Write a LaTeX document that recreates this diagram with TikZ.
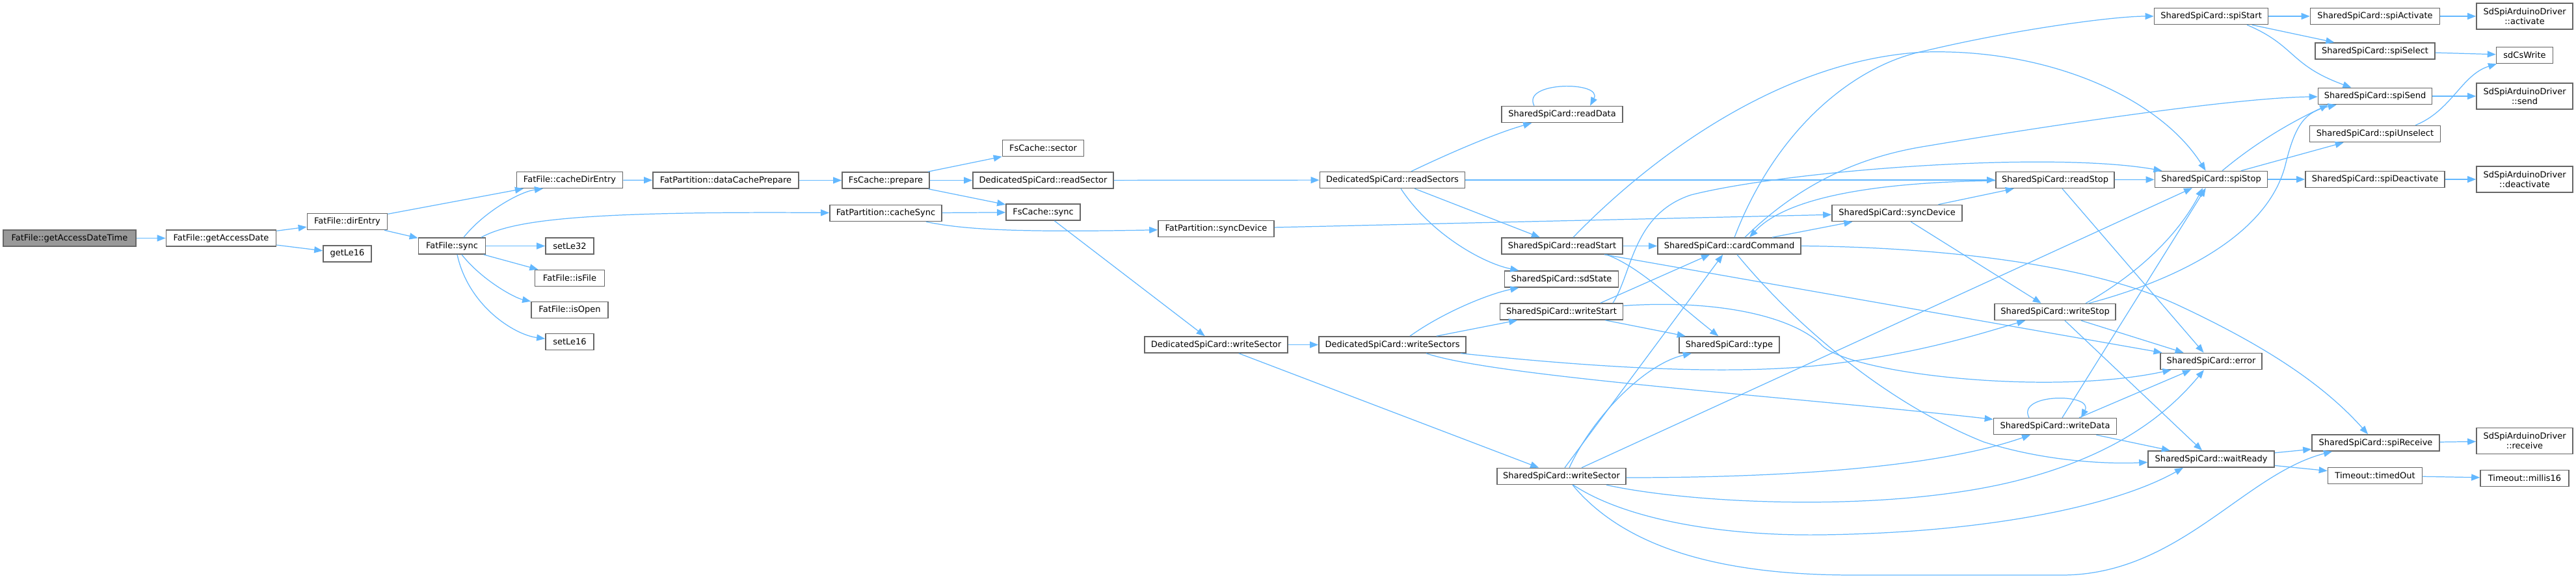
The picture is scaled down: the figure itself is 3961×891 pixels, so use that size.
\documentclass[tikz,border=0pt]{standalone}
\usepackage{fontspec}
\setmainfont{DejaVu Sans}
\usetikzlibrary{arrows.meta}
\definecolor{edgeblue}{HTML}{63B8FF}
\definecolor{boxgray}{HTML}{666666}
\definecolor{rootgray}{HTML}{999999}

\begin{document}
\begin{tikzpicture}[x=0.01cm, y=-0.01cm,
    fn/.style={rectangle, draw=boxgray, line width=0.45pt, fill=white, minimum height=0.25cm, inner xsep=0.04cm, inner ysep=0pt, font=\fontsize{3.7}{4.3}\selectfont, align=center},
    root/.style={fn, fill=rootgray},
    call/.style={draw=edgeblue, line width=0.35pt, -{Triangle[length=0.13cm, width=0.1cm]}}]
    \path[fill=white] (0,0) rectangle (3961,891);
    \useasboundingbox (0,0) rectangle (3961,891);

    \node[root, minimum width=2.04cm] (gadt) at (107,366.5) {FatFile::getAccessDateTime};
    \node[fn, minimum width=1.69cm] (gad) at (340,366.5) {FatFile::getAccessDate};
    \node[fn, minimum width=1.23cm] (dirent) at (534,341) {FatFile::dirEntry};
    \node[fn, minimum width=0.74cm] (getle) at (534,390.5) {getLe16};
    \node[fn, minimum width=1.63cm] (cde) at (876,277) {FatFile::cacheDirEntry};
    \node[fn, minimum width=1.03cm] (fsync) at (695,378.5) {FatFile::sync};
    \node[fn, minimum width=0.74cm] (setle32) at (876,378.5) {setLe32};
    \node[fn, minimum width=1.07cm] (isfile) at (876,428) {FatFile::isFile};
    \node[fn, minimum width=1.18cm] (isopen) at (876,477) {FatFile::isOpen};
    \node[fn, minimum width=0.74cm] (setle16) at (876,526) {setLe16};
    \node[fn, minimum width=2.24cm] (dcp) at (1116,277.5) {FatPartition::dataCachePrepare};
    \node[fn, minimum width=1.34cm] (prep) at (1362,277.5) {FsCache::prepare};
    \node[fn, minimum width=1.25cm] (sector) at (1604,228) {FsCache::sector};
    \node[fn, minimum width=2.16cm] (rsec) at (1604,277.5) {DedicatedSpiCard::readSector};
    \node[fn, minimum width=1.14cm] (fssync) at (1604,326.5) {FsCache::sync};
    \node[fn, minimum width=1.72cm] (csync) at (1362,328) {FatPartition::cacheSync};
    \node[fn, minimum width=1.78cm] (psync) at (1870,352) {FatPartition::syncDevice};
    \node[fn, minimum width=2.20cm] (dwsec) at (1870,530.5) {DedicatedSpiCard::writeSector};
    \node[fn, minimum width=2.26cm] (dwsecs) at (2141,530.5) {DedicatedSpiCard::writeSectors};
    \node[fn, minimum width=2.23cm] (drsecs) at (2141,277) {DedicatedSpiCard::readSectors};
    \node[fn, minimum width=1.86cm] (rdata) at (2402,176) {SharedSpiCard::readData};
    \node[fn, minimum width=1.86cm] (rstart) at (2402,378.5) {SharedSpiCard::readStart};
    \node[fn, minimum width=1.75cm] (sdstate) at (2401,429.5) {SharedSpiCard::sdState};
    \node[fn, minimum width=1.89cm] (wstart) at (2401,479.5) {SharedSpiCard::writeStart};
    \node[fn, minimum width=1.98cm] (swsec) at (2401,733) {SharedSpiCard::writeSector};
    \node[fn, minimum width=2.20cm] (cmd) at (2659,378.5) {SharedSpiCard::cardCommand};
    \node[fn, minimum width=1.54cm] (type) at (2659,530.5) {SharedSpiCard::type};
    \node[fn, minimum width=2.00cm] (ssync) at (2917,328) {SharedSpiCard::syncDevice};
    \node[fn, minimum width=1.82cm] (rstop) at (3160,277) {SharedSpiCard::readStop};
    \node[fn, minimum width=1.86cm] (wstop) at (3160,480) {SharedSpiCard::writeStop};
    \node[fn, minimum width=1.89cm] (wdata) at (3160,656) {SharedSpiCard::writeData};
    \node[fn, minimum width=1.75cm] (spistart) at (3400,25) {SharedSpiCard::spiStart};
    \node[fn, minimum width=1.73cm] (spistop) at (3400,276) {SharedSpiCard::spiStop};
    \node[fn, minimum width=1.56cm] (err) at (3400,556) {SharedSpiCard::error};
    \node[fn, minimum width=1.94cm] (wready) at (3400,706.5) {SharedSpiCard::waitReady};
    \node[fn, minimum width=1.99cm] (spiact) at (3652,25) {SharedSpiCard::spiActivate};
    \node[fn, minimum width=1.84cm] (spisel) at (3652,78.5) {SharedSpiCard::spiSelect};
    \node[fn, minimum width=1.75cm] (spisend) at (3652,148) {SharedSpiCard::spiSend};
    \node[fn, minimum width=2.01cm] (spiunsel) at (3652,206) {SharedSpiCard::spiUnselect};
    \node[fn, minimum width=2.14cm] (spideact) at (3652,276) {SharedSpiCard::spiDeactivate};
    \node[fn, minimum width=1.96cm] (spirecv) at (3653,681.5) {SharedSpiCard::spiReceive};
    \node[fn, minimum width=1.45cm] (timedout) at (3652,732) {Timeout::timedOut};
    \node[fn, minimum width=1.48cm, minimum height=0.4cm] (act) at (3882,25) {SdSpiArduinoDriver\\::activate};
    \node[fn, minimum width=0.87cm] (cswrite) at (3882,85) {sdCsWrite};
    \node[fn, minimum width=1.48cm, minimum height=0.4cm] (send) at (3882,148) {SdSpiArduinoDriver\\::send};
    \node[fn, minimum width=1.48cm, minimum height=0.4cm] (deact) at (3882,276) {SdSpiArduinoDriver\\::deactivate};
    \node[fn, minimum width=1.48cm, minimum height=0.4cm] (recv) at (3882,678.5) {SdSpiArduinoDriver\\::receive};
    \node[fn, minimum width=1.36cm] (millis) at (3882,736) {Timeout::millis16};

    \draw[call] (gadt) -- (gad);
    \draw[call] (gad) -- (dirent);
    \draw[call] (gad) -- (getle);
    \draw[call] (dirent) -- (cde);
    \draw[call] (dirent) -- (fsync);
    \draw[call] ([xshift=0.18cm]fsync.north) .. controls (745,325) and (800,295) .. ([xshift=-0.41cm]cde.south);
    \draw[call] ([xshift=0.45cm]fsync.north) .. controls (790,338) and (900,325) .. (csync);
    \draw[call] (fsync) -- (setle32);
    \draw[call] (fsync) -- (isfile);
    \draw[call] ([xshift=0.15cm]fsync.south) .. controls (740,430) and (790,458) .. (isopen);
    \draw[call] ([xshift=0.08cm]fsync.south) .. controls (720,470) and (790,515) .. (setle16);
    \draw[call] (cde) -- (dcp);
    \draw[call] (dcp) -- (prep);
    \draw[call] (prep) -- (sector);
    \draw[call] (prep) -- (rsec);
    \draw[call] (prep) -- (fssync);
    \draw[call] (csync) -- (fssync);
    \draw[call] ([xshift=0.62cm]csync.south) .. controls (1480,353) and (1560,358) .. (psync);
    \draw[call] (fssync) -- (dwsec);
    \draw[call] (rsec) -- (drsecs);
    \draw[call] (psync) -- (ssync);
    \draw[call] (dwsec) -- (dwsecs);
    \draw[call] (dwsec) -- (swsec);

    \draw[call] ([xshift=0.27cm]dwsecs.north) .. controls (2220,480) and (2290,452) .. (sdstate);
    \draw[call] (dwsecs) -- (wstart);
    \draw[call] ([xshift=1.05cm]dwsecs.south) .. controls (2450,565) and (2650,578) .. (2800,562) .. controls (2950,545) and (3050,512) .. (wstop);
    \draw[call] ([xshift=0.52cm]dwsecs.south) .. controls (2300,580) and (2750,610) .. (wdata);
    \draw[call] ([xshift=0.29cm]drsecs.north) .. controls (2230,235) and (2300,205) .. (rdata);
    \draw[call] (drsecs) -- (rstart);
    \draw[call] ([xshift=0.13cm]drsecs.south) .. controls (2200,360) and (2280,405) .. (sdstate);
    \draw[call] (drsecs) -- (rstop);
    \draw[call] ([xshift=-0.43cm]rdata.north) .. controls +(-20,-38) and +(20,-38) .. ([xshift=0.43cm]rdata.north);

    \draw[call] (rstart) -- (cmd);
    \draw[call] ([xshift=0.68cm]rstart.south) .. controls (2520,410) and (2570,460) .. (type);
    \draw[call] ([xshift=0.65cm]rstart.south) -- (err);
    \draw[call] ([xshift=0.17cm]rstart.north) .. controls (2550,230) and (2750,90) .. (2961,80) .. controls (3150,75) and (3320,150) .. (spistop);
    \draw[call] ([xshift=0.08cm]cmd.north) .. controls (2730,200) and (2850,100) .. (2961,78) .. controls (3100,45) and (3250,25) .. (spistart);
    \draw[call] ([xshift=0.24cm]cmd.north) .. controls (2780,270) and (2880,238) .. (2961,225) .. controls (3200,185) and (3450,150) .. (spisend);
    \draw[call] (rstop) .. controls (2900,280) and (2750,300) .. ([xshift=0.31cm]cmd.north);
    \draw[call] ([xshift=0.66cm]cmd.north) -- (ssync);
    \draw[call] ([xshift=0.12cm]cmd.south) .. controls (2760,500) and (2900,620) .. (3050,680) .. controls (3150,712) and (3250,714) .. (wready);
    \draw[call] (cmd.east) .. controls (2950,380) and (3200,400) .. (3350,470) .. controls (3500,540) and (3580,600) .. (spirecv);
    \draw[call] (ssync) -- (wstop);
    \draw[call] (ssync) -- (rstop);
    \draw[call] (rstop) -- (spistop);
    \draw[call] ([xshift=0.11cm]rstop.south) -- (err);

    \draw[call] (wstart) -- (type);
    \draw[call] ([xshift=0.6cm]wstart.north) -- (cmd);
    \draw[call] ([xshift=0.79cm]wstart.north) .. controls (2510,420) and (2510,330) .. (2600,300) .. controls (2750,262) and (3150,232) .. (spistop);
    \draw[call] ([yshift=0.09cm]wstart.east) .. controls (2650,460) and (2760,490) .. (2800,530) .. controls (2840,575) and (3150,610) .. (err);
    \draw[call] ([xshift=0.47cm]wstop.north) .. controls (3290,420) and (3350,360) .. ([xshift=-0.13cm]spistop.south);
    \draw[call] ([xshift=0.52cm]wstop.north) .. controls (3350,430) and (3490,360) .. (3515,250) .. controls (3530,190) and (3545,172) .. (spisend);
    \draw[call] ([xshift=0.4cm]wstop.south) -- (err);
    \draw[call] ([xshift=0.15cm]wstop.south) -- (wready);
    \draw[call] ([xshift=-0.4cm]wdata.north) .. controls +(-20,-38) and +(20,-38) .. ([xshift=0.4cm]wdata.north);
    \draw[call] ([xshift=0.11cm]wdata.north) -- (spistop);
    \draw[call] ([xshift=0.37cm]wdata.north) -- (err);
    \draw[call] (wdata) -- (wready);

    \draw[call] ([xshift=0.12cm]swsec.north) .. controls (2450,640) and (2530,560) .. (type);
    \draw[call] ([xshift=0.05cm]swsec.north) -- (cmd);
    \draw[call] ([xshift=0.31cm]swsec.north) -- (spistop);
    \draw[call] ([yshift=-0.02cm]swsec.east) .. controls (2800,735) and (3000,712) .. (wdata);
    \draw[call] ([xshift=0.69cm]swsec.south) .. controls (2600,775) and (2900,790) .. (3100,740) .. controls (3250,702) and (3330,640) .. (err);
    \draw[call] ([xshift=0.18cm]swsec.south) .. controls (2500,800) and (2650,825) .. (2800,823) .. controls (3050,820) and (3250,780) .. ([xshift=-0.43cm]wready.south);
    \draw[call] ([xshift=0.17cm]swsec.south) .. controls (2500,845) and (2650,885) .. (2850,885) -- (3170,885) .. controls (3350,885) and (3450,730) .. ([xshift=-0.67cm]spirecv.south);

    \draw[call] (spistart) -- (spiact);
    \draw[call] (spistart) -- (spisel);
    \draw[call] ([xshift=0.55cm]spistart.south) .. controls (3530,70) and (3520,100) .. (spisend);
    \draw[call] ([xshift=0.17cm]spistop.north) .. controls (3480,210) and (3540,180) .. ([xshift=-0.72cm]spisend.south);
    \draw[call] ([xshift=0.46cm]spistop.north) -- (spiunsel);
    \draw[call] (spistop) -- (spideact);
    \draw[call] (spiact) -- (act);
    \draw[call] (spisel) -- (cswrite);
    \draw[call] (spisend) -- (send);
    \draw[call] ([xshift=0.62cm]spiunsel.north) .. controls (3770,170) and (3785,115) .. (cswrite);
    \draw[call] (spideact) -- (deact);
    \draw[call] (wready) -- (spirecv);
    \draw[call] (wready) -- (timedout);
    \draw[call] (spirecv) -- (recv);
    \draw[call] (timedout) -- (millis);
\end{tikzpicture}
\end{document}
